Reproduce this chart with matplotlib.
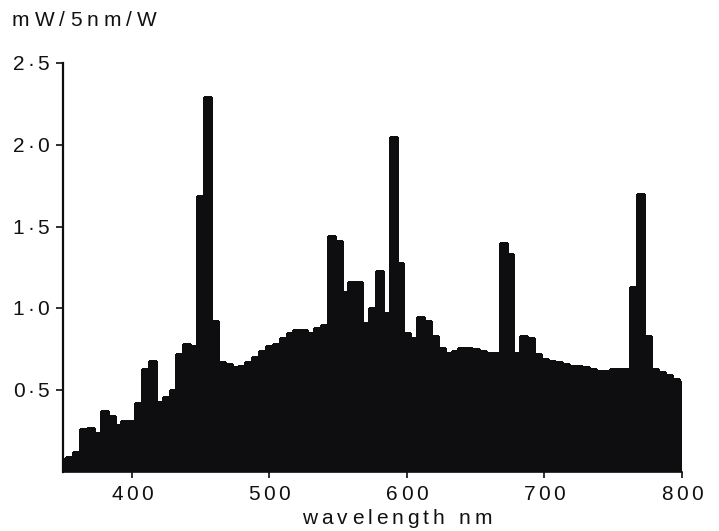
import matplotlib
matplotlib.use("Agg")
import matplotlib.pyplot as plt
from matplotlib.font_manager import FontProperties
from matplotlib.transforms import IdentityTransform

# Spectral power distribution, 5 nm bands (band centres in nm)
wavelength = list(range(350, 805, 5))
power = [
    0.08, 0.09, 0.12, 0.26, 0.27, 0.24, 0.37, 0.34, 0.29, 0.31,   # 350-395
    0.31, 0.42, 0.63, 0.68, 0.43, 0.46, 0.50, 0.72, 0.78, 0.77,   # 400-445
    1.69, 2.29, 0.92, 0.67, 0.66, 0.64, 0.65, 0.67, 0.70, 0.74,   # 450-495
    0.77, 0.78, 0.82, 0.85, 0.87, 0.87, 0.85, 0.88, 0.90, 1.44,   # 500-545
    1.41, 1.10, 1.16, 1.16, 0.91, 1.00, 1.23, 0.97, 2.05, 1.28,   # 550-595
    0.85, 0.82, 0.95, 0.92, 0.83, 0.76, 0.73, 0.74, 0.76, 0.76,   # 600-645
    0.75, 0.74, 0.73, 0.73, 1.40, 1.33, 0.73, 0.83, 0.82, 0.72,   # 650-695
    0.69, 0.68, 0.67, 0.66, 0.65, 0.65, 0.64, 0.63, 0.62, 0.62,   # 700-745
    0.63, 0.63, 0.63, 1.13, 1.70, 0.83, 0.63, 0.61, 0.59, 0.57,   # 750-795
    0.55,                                                         # 800
]
x_ticks = [400, 500, 600, 700, 800]
x_tick_labels = ["400", "500", "600", "700", "800"]
y_ticks = [0.5, 1.0, 1.5, 2.0, 2.5]
y_tick_labels = ["0·5", "1·0", "1·5", "2·0", "2·5"]
y_title = "mW/5nm/W"
x_title = "wavelength nm"

W, H = 719, 531
fig = plt.figure(figsize=(W / 100, H / 100), dpi=100)
ax = fig.add_axes([63 / W, 1 - 472 / H, (682 - 63) / W, (472 - 63) / H])

ink = "#0e0e10"
ax.bar(wavelength, power, width=5, align="center", color=ink,
       edgecolor=ink, linewidth=1.0, antialiased=False)
ax.set_xlim(350, 800)
ax.set_ylim(0, 2.5)

for side in ("top", "right"):
    ax.spines[side].set_visible(False)
ax.spines["left"].set_linewidth(1.6)
ax.spines["bottom"].set_linewidth(1.2)
ax.spines["left"].set_color(ink)
ax.spines["bottom"].set_color(ink)

ax.set_xticks(x_ticks)
ax.set_yticks(y_ticks)
ax.tick_params(axis="x", direction="out", length=4, width=1.2, colors=ink,
               labelbottom=False)
ax.tick_params(axis="y", direction="out", length=5, width=1.2, colors=ink,
               labelleft=False)

renderer = fig.canvas.get_renderer()
FONT = "Liberation Sans"


def tracked_text(x, y, s, size, track, ha="center", va="baseline"):
    """Draw a string letter by letter with extra spacing (display pixels)."""
    prop = FontProperties(family=FONT, size=size)
    widths = []
    for ch in s:
        if ch == " ":
            widths.append(size * 0.28 * 100 / 72)
        else:
            widths.append(renderer.get_text_width_height_descent(ch, prop, ismath=False)[0])
    total = sum(widths) + track * (len(s) - 1)
    if ha == "center":
        start = x - total / 2
    elif ha == "right":
        start = x - total
    else:
        start = x
    for ch, w in zip(s, widths):
        if ch != " ":
            fig.text(start, y, ch, fontproperties=prop, ha="left", va=va,
                     color="#111111", transform=IdentityTransform())
        start += w + track


# tick labels
for v, lab in zip(x_ticks, x_tick_labels):
    px, _ = ax.transData.transform((v, 0))
    tracked_text(px, H - 500, lab, 15, 3.2)
for v, lab in zip(y_ticks, y_tick_labels):
    _, py = ax.transData.transform((350, v))
    tracked_text(49, py - 7, lab, 15, 3.0, ha="right")

# axis titles
tracked_text(397, H - 524, x_title, 15, 4.0)
tracked_text(12, H - 26, y_title, 15, 5.0, ha="left")

fig.savefig("out.png", dpi=100, facecolor="white")
